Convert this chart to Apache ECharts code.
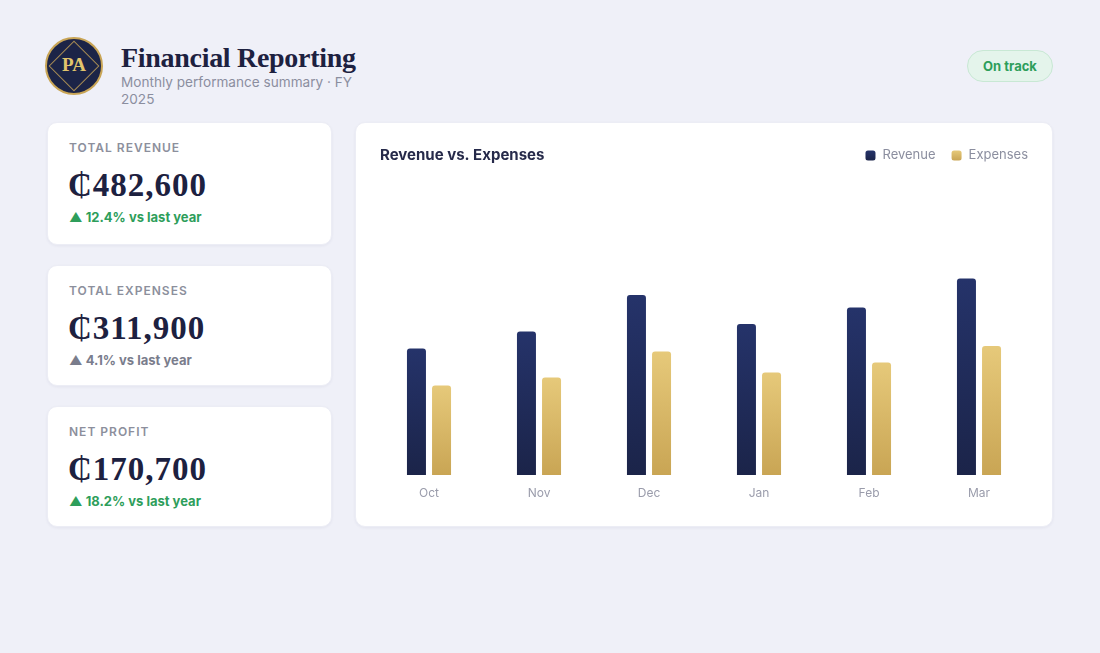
<!DOCTYPE html>
<html>
<head>
<meta charset="utf-8">
<script src="https://cdn.jsdelivr.net/npm/echarts@6/dist/echarts.min.js"></script>
<style>
  html, body { margin: 0; padding: 0; }
  body {
    width: 1100px; height: 653px; background: #eff0f8; position: relative;
    font-family: Inter, "Noto Sans", sans-serif; overflow: hidden;
  }
  .logo {
    position: absolute; left: 45px; top: 37px; width: 58px; height: 58px;
    border-radius: 50%; background: #1c2447; box-sizing: border-box;
    border: 2px solid #c9a556; overflow: hidden;
  }
  .logo .diamond {
    position: absolute; left: 9px; top: 9px; width: 36px; height: 36px;
    box-sizing: border-box; border: 1px solid #c9a556; transform: rotate(45deg); opacity: 0.8;
  }
  .logo span {
    position: absolute; left: 0; right: 0; top: 15px; text-align: center;
    color: #e2c46c; font: bold 19px "Liberation Serif", serif;
  }
  .head { position: absolute; left: 121px; top: 41px; width: 242px; }
  .head h1 {
    margin: 0; font: bold 28px "Liberation Serif", "DejaVu Serif", serif;
    color: #1d2140; letter-spacing: -0.3px; line-height: 33px; white-space: nowrap;
  }
  .head p { margin: 0; font-size: 13.6px; color: #8b8e9f; line-height: 17px; }
  .badge {
    position: absolute; left: 967px; top: 50px; width: 86px; height: 32px;
    box-sizing: border-box; border-radius: 16px; background: #e4f4eb;
    border: 1px solid #c8e8d4; color: #2e9e5b; font-weight: 700; font-size: 13px;
    text-align: center; line-height: 30px;
  }
  .card {
    position: absolute; background: #fff; border-radius: 10px;
    box-shadow: 0 1px 3px rgba(30, 36, 80, 0.06); border: 1px solid #ecedf5;
    box-sizing: border-box;
  }
  .kpi { left: 47px; width: 285px; }
  .kpi .lbl {
    position: absolute; left: 21px; top: 17px; font-size: 12px; font-weight: 600;
    letter-spacing: 1px; color: #8c8f9c;
  }
  .kpi .val {
    position: absolute; left: 20px; top: 44px; font: bold 33px "Liberation Serif", "DejaVu Serif", serif;
    color: #1d2140; letter-spacing: 1px;
  }
  .kpi .dlt {
    position: absolute; left: 21px; top: 86px; font-size: 13px; font-weight: 700;
  }
  .up { color: #2e9e5b; }
  .flat { color: #7a7d8c; }
  #chart { left: 355px; top: 122px; width: 698px; height: 405px; }
</style>
</head>
<body>
<div class="logo"><div class="diamond"></div><span>PA</span></div>
<div class="head">
  <h1>Financial Reporting</h1>
  <p>Monthly performance summary · FY 2025</p>
</div>
<div class="badge">On track</div>

<div class="card kpi" style="top:122px;height:123px;">
  <div class="lbl">TOTAL REVENUE</div>
  <div class="val">₵482,600</div>
  <div class="dlt up">▲ 12.4% vs last year</div>
</div>
<div class="card kpi" style="top:265px;height:121px;">
  <div class="lbl">TOTAL EXPENSES</div>
  <div class="val">₵311,900</div>
  <div class="dlt flat">▲ 4.1% vs last year</div>
</div>
<div class="card kpi" style="top:406px;height:121px;">
  <div class="lbl">NET PROFIT</div>
  <div class="val">₵170,700</div>
  <div class="dlt up">▲ 18.2% vs last year</div>
</div>

<div class="card" id="chart"></div>

<script>
// 月份
var months = ['Oct', 'Nov', 'Dec', 'Jan', 'Feb', 'Mar']
// 收入
var revenue = [63300, 71800, 90000, 75500, 83700, 98300]
// 支出
var expenses = [44700, 48800, 61700, 51300, 56200, 64500]

var myChart = echarts.init(document.getElementById('chart'))
var option = {
  animation: false,
  title: {
    text: 'Revenue vs. Expenses',
    left: 24,
    top: 25,
    padding: 0,
    textStyle: { fontFamily: 'Inter', fontSize: 15, fontWeight: 700, color: '#262a4a' }
  },
  legend: {
    right: 24,
    top: 26,
    padding: 0,
    icon: 'roundRect',
    itemWidth: 10,
    itemHeight: 10,
    itemGap: 16,
    textStyle: { fontFamily: 'Inter', fontSize: 13, color: '#8b8e9f', padding: [0, 0, 0, 2] },
    data: ['Revenue', 'Expenses']
  },
  grid: { left: 18, right: 18, top: 132, bottom: 51 },
  xAxis: {
    type: 'category',
    data: months,
    axisLine: { show: false },
    axisTick: { show: false },
    axisLabel: { margin: 12, fontFamily: 'Inter', fontSize: 12, color: '#9a9cab' }
  },
  yAxis: {
    type: 'value',
    min: 0,
    max: 110000,
    show: false
  },
  series: [
    {
      name: 'Revenue',
      type: 'bar',
      data: revenue,
      barWidth: 19,
      barGap: '32%',
      itemStyle: {
        borderRadius: [3, 3, 0, 0],
        color: new echarts.graphic.LinearGradient(0, 0, 0, 1, [
          { offset: 0, color: '#25336a' },
          { offset: 1, color: '#1b2449' }
        ])
      }
    },
    {
      name: 'Expenses',
      type: 'bar',
      data: expenses,
      barWidth: 19,
      itemStyle: {
        borderRadius: [3, 3, 0, 0],
        color: new echarts.graphic.LinearGradient(0, 0, 0, 1, [
          { offset: 0, color: '#e6c97a' },
          { offset: 1, color: '#c9a554' }
        ])
      }
    }
  ]
}
myChart.setOption(option)
</script>
</body>
</html>
